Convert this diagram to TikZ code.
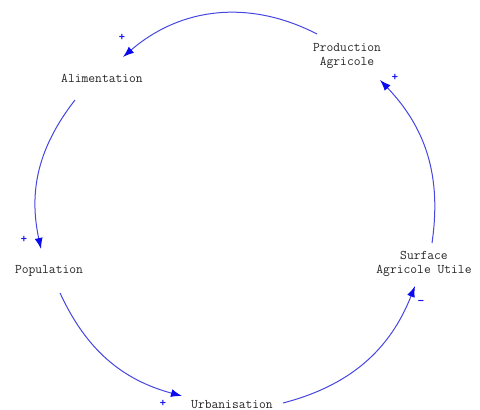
\documentclass[tikz,border=0pt]{standalone}
\usepackage{fontspec}
\newfontfamily\signfont{Liberation Sans}
\usetikzlibrary{arrows.meta,calc}
\definecolor{linkc}{RGB}{70,70,225}
\definecolor{headc}{RGB}{10,10,240}
\begin{document}
\begin{tikzpicture}[x=1pt,y=1pt,
  var/.style={font=\ttfamily\fontsize{13.2}{13.5}\selectfont, align=center, inner sep=0pt, text=black!85},
  link/.style={draw=linkc, line width=1pt, -{Latex[length=11pt,width=8pt,color=headc]}},
  sgn/.style={font=\signfont\bfseries\fontsize{10.5}{10.5}\selectfont, text=headc!80!linkc, inner sep=0pt}]
\useasboundingbox (0,0) rectangle (480,410);
\node[var] (prod) at (347,354) {Production\\Agricole};
\node[var] (alim) at (102,332) {Alimentation};
\node[var] (pop)  at (49,139)  {Population};
\node[var] (urb)  at (232,5.5) {Urbanisation};
\node[var] (surf) at (424,146) {Surface\\Agricole Utile};

\draw[link] ($(prod)+(-30,22)$) to[bend right=34] ($(alim)+(21,21)$);
\draw[link] ($(alim)+(-27,-22)$) to[bend right=25] ($(pop)+(-8,22)$);
\draw[link] ($(pop)+(11,-22)$) to[bend right=25] ($(urb)+(-50,8.5)$);
\draw[link] ($(urb)+(51,1.5)$) to[bend right=27] ($(surf)+(-9,-22)$);
\draw[link] ($(surf)+(8,21)$) to[bend right=26] ($(prod)+(33,-24)$);

\node[sgn] (s1) at (122,373) {+};
\node[sgn] (s2) at (24,171)  {+};
\node[sgn] (s3) at (163,7)   {+};
\node[sgn] (s4) at (421,108) {−};
\node[sgn] (s5) at (395,333) {+};
\end{tikzpicture}
\end{document}
